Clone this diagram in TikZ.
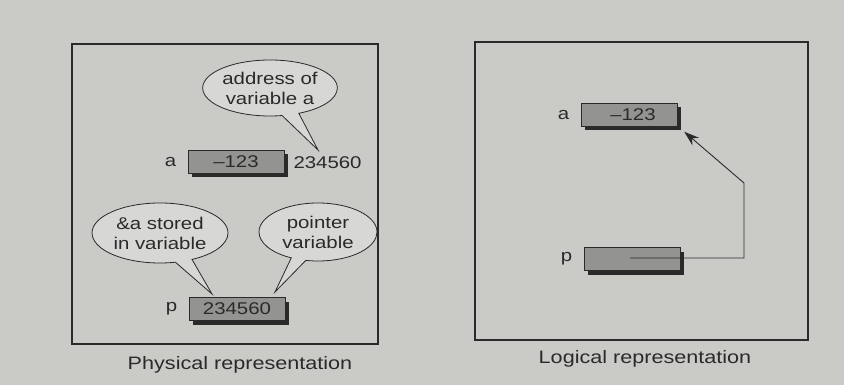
\documentclass[tikz,border=0pt]{standalone}
\usepackage{fontspec}
\setmainfont{Liberation Sans}
\newfontfamily\wideface[FakeStretch=1.2]{Liberation Sans}
\usetikzlibrary{shapes.callouts,shadows,arrows.meta}
\definecolor{paper}{HTML}{CACAC7}
\definecolor{cellgray}{HTML}{939391}
\definecolor{ink}{HTML}{2A2A2A}
\tikzset{
  panel/.style={draw=ink, line width=1.1pt},
  cell/.style={draw=ink, line width=0.6pt, fill=cellgray, minimum width=96pt,
    minimum height=23pt, inner sep=0pt, text=ink,
    font=\wideface\fontsize{17}{20}\selectfont,
    drop shadow={shadow xshift=4pt, shadow yshift=-4pt, fill=ink, opacity=1}},
  varname/.style={text=ink, font=\wideface\fontsize{17}{20}\selectfont, anchor=east},
  bubble/.style={ellipse callout, draw=ink, line width=0.8pt, fill=paper!75!white,
    align=center, inner sep=0pt, text=ink,
    font=\wideface\fontsize{17}{20}\selectfont},
  caption/.style={text=ink, font=\wideface\fontsize{18}{20}\selectfont},
  link/.style={draw=ink, line width=0.9pt, -{Stealth[length=15pt,width=10pt]}}
}
\begin{document}
\begin{tikzpicture}[x=1pt,y=-1pt]
  % page
  \fill[paper] (0,0) rectangle (844,385);
  \useasboundingbox (0,0) rectangle (844,385);

  % physical panel
  \draw[panel] (72,44) rectangle (378,344);
  \node[caption] (capP) at (240,365) {Physical representation};

  \node[cell] (aP) at (236,162) {–123};
  \node[varname] (aPname) at ([xshift=-8pt]aP.west) {a};
  \node[varname, anchor=west] (addrA) at (290,163) {234560};
  \node[bubble, minimum width=132pt, minimum height=56pt,
        callout absolute pointer={(318,150)}] (bA) at (270,88)
        {address of\\variable a};

  \node[cell] (pP) at (237,309) {234560};
  \node[varname] (pPname) at ([xshift=-8pt]pP.west) {p};
  \node[bubble, minimum width=136pt, minimum height=60pt,
        callout absolute pointer={(212,294)}] (bStore) at (160,233)
        {\&a stored\\in variable};
  \node[bubble, minimum width=118pt, minimum height=58pt,
        callout absolute pointer={(275,292)}] (bPtr) at (318,232)
        {pointer\\variable};

  % logical panel
  \draw[panel] (475,42) rectangle (808,340);
  \node[caption] (capL) at (645,359) {Logical representation};

  \node[cell] (aL) at (629,115) {\hspace*{8pt}–123};
  \node[varname] (aLname) at ([xshift=-8pt]aL.west) {a};
  \node[cell] (pL) at (632,259) {};
  \node[varname] (pLname) at ([xshift=-8pt]pL.west) {p};

  \coordinate (pin) at (630,258);
  \coordinate (bend) at (744,183);
  \coordinate (tip) at ([shift={(7,5)}]aL.south east);
  \draw[link] (pin) -| (bend) -- (tip);
\end{tikzpicture}
\end{document}
